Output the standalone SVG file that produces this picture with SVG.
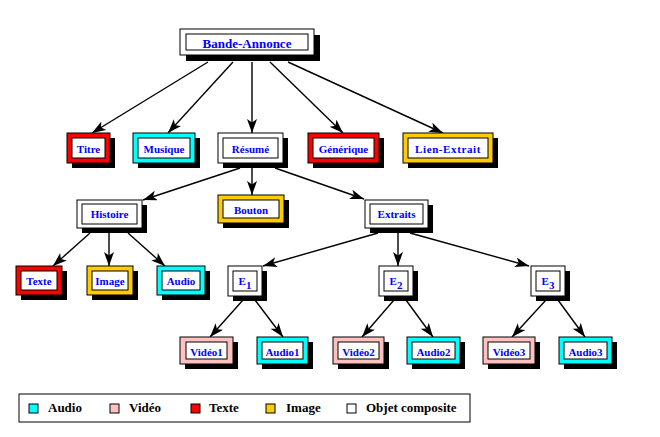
<svg xmlns="http://www.w3.org/2000/svg" width="660" height="437" viewBox="0 0 660 437">
<defs>
<style>
.sh{fill:#000}
.o{stroke:#000;stroke-width:1}
.i{fill:#fff;stroke:#000;stroke-width:1}
.t{font-family:"Liberation Serif","Times New Roman",serif;font-weight:bold;font-size:11px;fill:#0000ff;text-anchor:middle}
.big{font-size:13px}
.lg{font-family:"Liberation Serif","Times New Roman",serif;font-weight:bold;font-size:13px;fill:#000}
.c{stroke:#000;stroke-width:1.4;fill:none;marker-end:url(#ah)}
.au{fill:#00ffff}.vi{fill:#ffc0c0}.te{fill:#ff0000}.im{fill:#ffcc00}.co{fill:#fff}
</style>
<marker id="ah" markerUnits="userSpaceOnUse" markerWidth="16" markerHeight="12" refX="14" refY="5" orient="auto">
<path d="M0,0 L14,5 L0,10 L3.5,5 z" fill="#000"/>
</marker>
</defs>
<rect width="660" height="437" fill="#fff"/>

<g id="connectors">
<line class="c" x1="208" y1="62" x2="92" y2="133"/>
<line class="c" x1="233" y1="62" x2="168" y2="133"/>
<line class="c" x1="252" y1="62" x2="252" y2="133"/>
<line class="c" x1="270" y1="62" x2="343" y2="133"/>
<line class="c" x1="288" y1="62" x2="443" y2="133"/>
<line class="c" x1="240" y1="168" x2="143" y2="200"/>
<line class="c" x1="252" y1="168" x2="252" y2="195"/>
<line class="c" x1="275" y1="168" x2="364" y2="199"/>
<line class="c" x1="90" y1="233" x2="53" y2="266"/>
<line class="c" x1="109" y1="233" x2="109" y2="266"/>
<line class="c" x1="128" y1="233" x2="165" y2="266"/>
<line class="c" x1="378" y1="233" x2="263" y2="266"/>
<line class="c" x1="398" y1="233" x2="398" y2="266"/>
<line class="c" x1="410" y1="233" x2="529" y2="266"/>
<line class="c" x1="243" y1="300" x2="210" y2="337"/>
<line class="c" x1="255" y1="300" x2="283" y2="337"/>
<line class="c" x1="394" y1="300" x2="362" y2="337"/>
<line class="c" x1="406" y1="300" x2="433" y2="337"/>
<line class="c" x1="546" y1="300" x2="512" y2="337"/>
<line class="c" x1="558" y1="300" x2="585" y2="337"/>
</g>

<g id="bande-annonce">
<rect class="sh" x="186" y="35" width="134" height="26"/>
<rect class="o co" x="180" y="29" width="134" height="26"/>
<rect class="i" x="186" y="34" width="122" height="16"/>
<text class="t big" x="247" y="48">Bande-Annonce</text>
</g>

<g id="titre">
<rect class="sh" x="72" y="138" width="43" height="30"/>
<rect class="o te" x="67" y="133" width="43" height="30"/>
<rect class="i" x="72" y="138" width="33" height="20"/>
<text class="t" x="88.5" y="152.5">Titre</text>
</g>
<g id="musique">
<rect class="sh" x="138" y="138" width="62" height="30"/>
<rect class="o au" x="133" y="133" width="62" height="30"/>
<rect class="i" x="138" y="138" width="52" height="20"/>
<text class="t" x="164" y="152.5">Musique</text>
</g>
<g id="resume">
<rect class="sh" x="223" y="138" width="65" height="30"/>
<rect class="o co" x="218" y="133" width="65" height="30"/>
<rect class="i" x="223" y="138" width="55" height="20"/>
<text class="t" x="250.5" y="152.5">Résumé</text>
</g>
<g id="generique">
<rect class="sh" x="313" y="138" width="71" height="30"/>
<rect class="o te" x="308" y="133" width="71" height="30"/>
<rect class="i" x="313" y="138" width="61" height="20"/>
<text class="t" x="343.5" y="152.5">Générique</text>
</g>
<g id="lien-extrait">
<rect class="sh" x="408" y="138" width="90" height="30"/>
<rect class="o im" x="403" y="133" width="90" height="30"/>
<rect class="i" x="408" y="138" width="80" height="20"/>
<text class="t" x="448" y="152.5" letter-spacing="0.6">Lien-Extrait</text>
</g>

<g id="histoire">
<rect class="sh" x="82" y="205" width="65" height="28"/>
<rect class="o co" x="77" y="200" width="65" height="28"/>
<rect class="i" x="82" y="204" width="55" height="20"/>
<text class="t" x="109.5" y="218">Histoire</text>
</g>
<g id="bouton">
<rect class="sh" x="223" y="200" width="66" height="28"/>
<rect class="o im" x="218" y="195" width="66" height="28"/>
<rect class="i" x="223" y="200" width="56" height="18"/>
<text class="t" x="251" y="213.5">Bouton</text>
</g>
<g id="extraits">
<rect class="sh" x="370" y="205" width="63" height="28"/>
<rect class="o co" x="365" y="200" width="63" height="28"/>
<rect class="i" x="370" y="204" width="53" height="20"/>
<text class="t" x="396.5" y="218">Extraits</text>
</g>

<g id="texte">
<rect class="sh" x="21" y="271" width="46" height="29"/>
<rect class="o te" x="16" y="266" width="46" height="29"/>
<rect class="i" x="21" y="271" width="36" height="19"/>
<text class="t" x="39" y="284.5">Texte</text>
</g>
<g id="image">
<rect class="sh" x="92" y="271" width="46" height="29"/>
<rect class="o im" x="87" y="266" width="46" height="29"/>
<rect class="i" x="92" y="271" width="36" height="19"/>
<text class="t" x="110" y="284.5">Image</text>
</g>
<g id="audio">
<rect class="sh" x="162" y="271" width="48" height="29"/>
<rect class="o au" x="157" y="266" width="48" height="29"/>
<rect class="i" x="162" y="271" width="38" height="19"/>
<text class="t" x="181" y="284.5">Audio</text>
</g>

<g id="e1">
<rect class="sh" x="233" y="271" width="34" height="30"/>
<rect class="o co" x="228" y="266" width="34" height="30"/>
<rect class="i" x="233" y="271" width="24" height="20"/>
<text class="t" x="245" y="285"><tspan>E</tspan><tspan dy="4">1</tspan></text>
</g>
<g id="e2">
<rect class="sh" x="384" y="271" width="34" height="30"/>
<rect class="o co" x="379" y="266" width="34" height="30"/>
<rect class="i" x="384" y="271" width="24" height="20"/>
<text class="t" x="396" y="285"><tspan>E</tspan><tspan dy="4">2</tspan></text>
</g>
<g id="e3">
<rect class="sh" x="536" y="271" width="34" height="30"/>
<rect class="o co" x="531" y="266" width="34" height="30"/>
<rect class="i" x="536" y="271" width="24" height="20"/>
<text class="t" x="548" y="285"><tspan>E</tspan><tspan dy="4">3</tspan></text>
</g>

<g id="video1">
<rect class="sh" x="185" y="342" width="53" height="27"/>
<rect class="o vi" x="180" y="337" width="53" height="27"/>
<rect class="i" x="186" y="342" width="41" height="17"/>
<text class="t" x="206.5" y="355.5">Vidéo1</text>
</g>
<g id="audio1">
<rect class="sh" x="262" y="342" width="51" height="27"/>
<rect class="o au" x="257" y="337" width="51" height="27"/>
<rect class="i" x="262" y="342" width="41" height="17"/>
<text class="t" x="282.5" y="355.5">Audio1</text>
</g>
<g id="video2">
<rect class="sh" x="338" y="342" width="51" height="27"/>
<rect class="o vi" x="333" y="337" width="51" height="27"/>
<rect class="i" x="338" y="342" width="41" height="17"/>
<text class="t" x="358.5" y="355.5">Vidéo2</text>
</g>
<g id="audio2">
<rect class="sh" x="412" y="342" width="53" height="27"/>
<rect class="o au" x="407" y="337" width="53" height="27"/>
<rect class="i" x="412" y="342" width="43" height="17"/>
<text class="t" x="433.5" y="355.5">Audio2</text>
</g>
<g id="video3">
<rect class="sh" x="488" y="342" width="52" height="27"/>
<rect class="o vi" x="483" y="337" width="52" height="27"/>
<rect class="i" x="488" y="342" width="42" height="17"/>
<text class="t" x="509" y="355.5">Vidéo3</text>
</g>
<g id="audio3">
<rect class="sh" x="564" y="342" width="53" height="27"/>
<rect class="o au" x="559" y="337" width="53" height="27"/>
<rect class="i" x="564" y="342" width="43" height="17"/>
<text class="t" x="585.5" y="355.5">Audio3</text>
</g>

<g id="legend">
<rect x="19" y="394" width="451" height="28" fill="#fff" stroke="#000" stroke-width="1"/>
<rect class="o au" x="29" y="404" width="9" height="9"/>
<text class="lg" x="48" y="412">Audio</text>
<rect class="o vi" x="110" y="404" width="9" height="9"/>
<text class="lg" x="129" y="412">Vidéo</text>
<rect class="o te" x="191" y="404" width="9" height="9"/>
<text class="lg" x="209" y="412">Texte</text>
<rect class="o im" x="266" y="404" width="9" height="9"/>
<text class="lg" x="286" y="412">Image</text>
<rect class="o co" x="347" y="404" width="9" height="9"/>
<text class="lg" x="366" y="412">Objet composite</text>
</g>
</svg>
